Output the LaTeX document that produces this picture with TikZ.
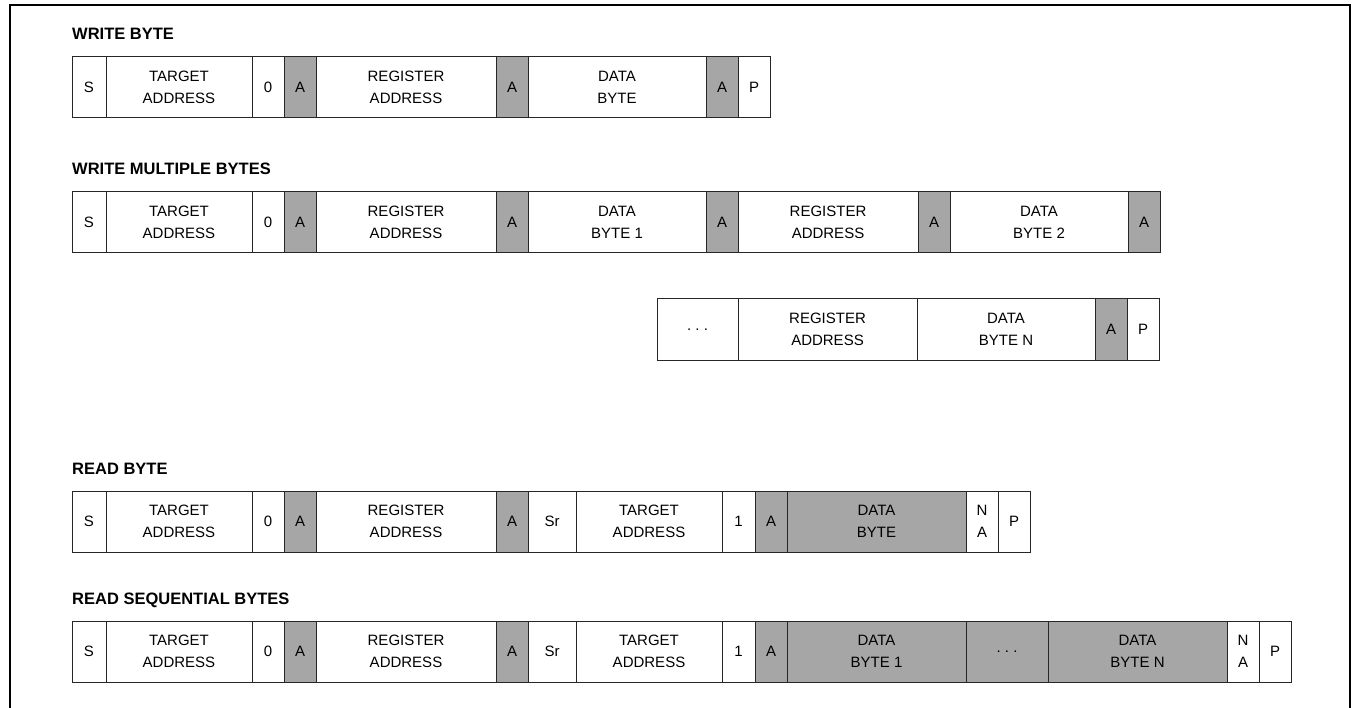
\documentclass[tikz,border=0pt]{standalone}
\usepackage{fontspec}
\setmainfont{Liberation Sans}

\begin{document}
\begin{tikzpicture}[x=1pt, y=-1pt,
  field/.style={draw=black!85, line width=1pt, minimum height=61pt, inner sep=0pt,
    align=center, font=\fontsize{15}{22}\selectfont},
  ackfield/.style={field, fill=ackcolor},
  heading/.style={anchor=base west, inner sep=0pt, font=\fontsize{16.5}{18}\selectfont\bfseries}]

\definecolor{ackcolor}{RGB}{166, 166, 166}

\useasboundingbox (0,0) rectangle (1354,708);
\draw[line width=2pt] (10,712) -- (10,5) -- (1350,5) -- (1350,712);

% write byte
\node[heading] (wbTitle) at (72,40) {WRITE BYTE};
\node[field, minimum width=34pt] (wbS) at (89,87.5) {S};
\node[field, minimum width=146pt] (wbTgt) at (179,87.5) {TARGET\\ADDRESS};
\node[field, minimum width=32pt] (wbW) at (268,87.5) {0};
\node[ackfield, minimum width=32pt] (wbA1) at (300,87.5) {A};
\node[field, minimum width=180pt] (wbReg) at (406,87.5) {REGISTER\\ADDRESS};
\node[ackfield, minimum width=32pt] (wbA2) at (512,87.5) {A};
\node[field, minimum width=178pt] (wbData) at (617,87.5) {DATA\\BYTE};
\node[ackfield, minimum width=32pt] (wbA3) at (722,87.5) {A};
\node[field, minimum width=32pt] (wbP) at (754,87.5) {P};

% write multiple bytes
\node[heading] (wmTitle) at (72,175) {WRITE MULTIPLE BYTES};
\node[field, minimum width=34pt] (wmS) at (89,222) {S};
\node[field, minimum width=146pt] (wmTgt) at (179,222) {TARGET\\ADDRESS};
\node[field, minimum width=32pt] (wmW) at (268,222) {0};
\node[ackfield, minimum width=32pt] (wmA1) at (300,222) {A};
\node[field, minimum width=180pt] (wmReg1) at (406,222) {REGISTER\\ADDRESS};
\node[ackfield, minimum width=32pt] (wmA2) at (512,222) {A};
\node[field, minimum width=178pt] (wmData1) at (617,222) {DATA\\BYTE 1};
\node[ackfield, minimum width=32pt] (wmA3) at (722,222) {A};
\node[field, minimum width=180pt] (wmReg2) at (828,222) {REGISTER\\ADDRESS};
\node[ackfield, minimum width=32pt] (wmA4) at (934,222) {A};
\node[field, minimum width=178pt] (wmData2) at (1039,222) {DATA\\BYTE 2};
\node[ackfield, minimum width=32pt] (wmA5) at (1144,222) {A};

\node[field, minimum width=81pt] (wmDots) at (697.5,329.5) {.~.~.};
\node[field, minimum width=179pt] (wmRegN) at (827.5,329.5) {REGISTER\\ADDRESS};
\node[field, minimum width=178pt] (wmDataN) at (1006,329.5) {DATA\\BYTE N};
\node[ackfield, minimum width=32pt] (wmAN) at (1111,329.5) {A};
\node[field, minimum width=32pt] (wmP) at (1143,329.5) {P};

% read byte
\node[heading] (rbTitle) at (72,474) {READ BYTE};
\node[field, minimum width=34pt] (rbS) at (89,521.5) {S};
\node[field, minimum width=146pt] (rbTgt1) at (179,521.5) {TARGET\\ADDRESS};
\node[field, minimum width=32pt] (rbW) at (268,521.5) {0};
\node[ackfield, minimum width=32pt] (rbA1) at (300,521.5) {A};
\node[field, minimum width=180pt] (rbReg) at (406,521.5) {REGISTER\\ADDRESS};
\node[ackfield, minimum width=32pt] (rbA2) at (512,521.5) {A};
\node[field, minimum width=48pt] (rbSr) at (552,521.5) {Sr};
\node[field, minimum width=146pt] (rbTgt2) at (649,521.5) {TARGET\\ADDRESS};
\node[field, minimum width=33pt] (rbR) at (738.5,521.5) {1};
\node[ackfield, minimum width=32pt] (rbA3) at (771,521.5) {A};
\node[ackfield, minimum width=179pt] (rbData) at (876.5,521.5) {DATA\\BYTE};
\node[field, minimum width=32pt] (rbNA) at (982,521.5) {N\\A};
\node[field, minimum width=32pt] (rbP) at (1014,521.5) {P};

% read sequential bytes
\node[heading] (rsTitle) at (72,604) {READ SEQUENTIAL BYTES};
\node[field, minimum width=34pt] (rsS) at (89,651.5) {S};
\node[field, minimum width=146pt] (rsTgt1) at (179,651.5) {TARGET\\ADDRESS};
\node[field, minimum width=32pt] (rsW) at (268,651.5) {0};
\node[ackfield, minimum width=32pt] (rsA1) at (300,651.5) {A};
\node[field, minimum width=180pt] (rsReg) at (406,651.5) {REGISTER\\ADDRESS};
\node[ackfield, minimum width=32pt] (rsA2) at (512,651.5) {A};
\node[field, minimum width=48pt] (rsSr) at (552,651.5) {Sr};
\node[field, minimum width=146pt] (rsTgt2) at (649,651.5) {TARGET\\ADDRESS};
\node[field, minimum width=33pt] (rsR) at (738.5,651.5) {1};
\node[ackfield, minimum width=32pt] (rsA3) at (771,651.5) {A};
\node[ackfield, minimum width=179pt] (rsData1) at (876.5,651.5) {DATA\\BYTE 1};
\node[ackfield, minimum width=82pt] (rsDots) at (1007,651.5) {.~.~.};
\node[ackfield, minimum width=179pt] (rsDataN) at (1137.5,651.5) {DATA\\BYTE N};
\node[field, minimum width=32pt] (rsNA) at (1243,651.5) {N\\A};
\node[field, minimum width=32pt] (rsP) at (1275,651.5) {P};

\end{tikzpicture}
\end{document}
